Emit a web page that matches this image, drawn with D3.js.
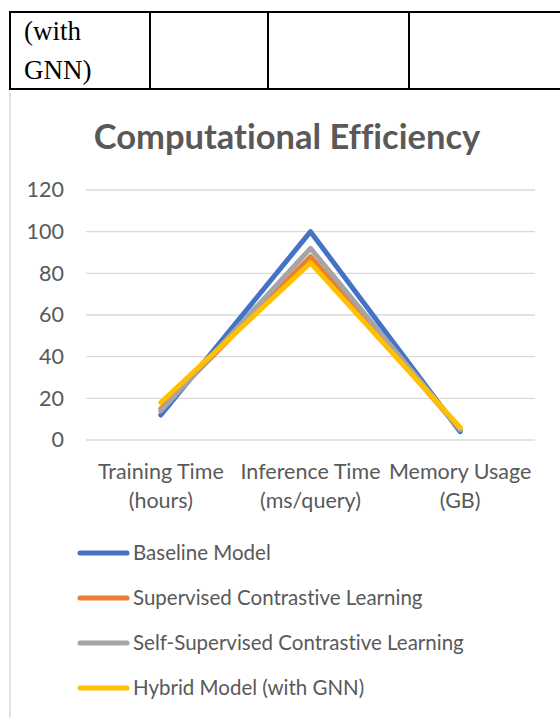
<!DOCTYPE html>
<html lang="en">
<head>
<meta charset="utf-8">
<title>Computational Efficiency</title>
<script src="https://cdn.jsdelivr.net/npm/d3@7"></script>
<style>
  body { margin: 0; background: #fff; }
  text { font-variant-ligatures: none; }
</style>
</head>
<body>
<script type="text/javascript">

var width = 560;
var height = 718;

var categories = ["Training Time (hours)", "Inference Time (ms/query)", "Memory Usage (GB)"];
var categoryLines = [["Training Time", "(hours)"], ["Inference Time", "(ms/query)"], ["Memory Usage", "(GB)"]];
var seriesNames = ["Baseline Model", "Supervised Contrastive Learning", "Self-Supervised Contrastive Learning", "Hybrid Model (with GNN)"];
var baseline = [12, 100, 4];
var supervised = [15, 88, 5];
var selfSupervised = [14, 92, 5];
var hybrid = [18, 85, 6];
var yTicks = [0, 20, 40, 60, 80, 100, 120];
var colors = ["#4472C4", "#ED7D31", "#A5A5A5", "#FFC000"];

var seriesValues = [baseline, supervised, selfSupervised, hybrid];

var font = "Lato, 'Open Sans', sans-serif";
var textColor = "#595959";

var svg = d3.select("body").append("svg")
    .attr("width", width)
    .attr("height", height);

// table fragment above the chart
var table = svg.append("g");
[10, 150, 268, 409].forEach(function(x) {
    table.append("line")
        .attr("x1", x).attr("x2", x)
        .attr("y1", 11).attr("y2", 90)
        .attr("stroke", "#000").attr("stroke-width", 2);
});
[12, 89].forEach(function(y) {
    table.append("line")
        .attr("x1", 9).attr("x2", width)
        .attr("y1", y).attr("y2", y)
        .attr("stroke", "#000").attr("stroke-width", 2);
});
table.append("text").attr("x", 24).attr("y", 40)
    .attr("font-family", "'Liberation Serif', 'Times New Roman', serif")
    .attr("font-size", 27).text("(with");
table.append("text").attr("x", 24).attr("y", 79)
    .attr("font-family", "'Liberation Serif', 'Times New Roman', serif")
    .attr("font-size", 27).text("GNN)");

// chart frame (left edge only visible)
svg.append("line")
    .attr("x1", 10).attr("x2", 10)
    .attr("y1", 92).attr("y2", height)
    .attr("stroke", "#d9d9d9").attr("stroke-width", 1.5);

// title
svg.append("text")
    .attr("x", 287).attr("y", 149)
    .attr("text-anchor", "middle")
    .attr("font-family", font)
    .attr("font-weight", "bold")
    .attr("font-size", 34.5)
    .attr("fill", textColor)
    .text("Computational Efficiency");

var x = d3.scalePoint().domain(categories).range([86, 535]).padding(0.5);
var y = d3.scaleLinear().domain([0, 120]).range([440, 190]);

// gridlines
svg.append("g").selectAll("line")
    .data(yTicks)
    .enter()
    .append("line")
    .attr("x1", 86).attr("x2", 535)
    .attr("y1", function(d) { return y(d); })
    .attr("y2", function(d) { return y(d); })
    .attr("stroke", "#d9d9d9")
    .attr("stroke-width", 1.3);

// y axis labels
var yAxis = svg.append("g")
    .attr("transform", "translate(64,0)")
    .call(d3.axisLeft(y).tickValues(yTicks).tickSize(0).tickPadding(0));
yAxis.select(".domain").remove();
yAxis.selectAll("text")
    .attr("font-family", font)
    .attr("font-size", 21.5)
    .attr("fill", textColor);

// x axis labels (two lines each)
var xLabels = svg.append("g").selectAll("text")
    .data(categories)
    .enter()
    .append("text")
    .attr("text-anchor", "middle")
    .attr("font-family", font)
    .attr("font-size", 21.5)
    .attr("fill", textColor);
xLabels.each(function(d, i) {
    var t = d3.select(this);
    categoryLines[i].forEach(function(line, j) {
        t.append("tspan")
            .attr("x", x(d))
            .attr("y", 479 + j * 29)
            .text(line);
    });
});

// series lines
var line = d3.line()
    .x(function(d, i) { return x(categories[i]); })
    .y(function(d) { return y(d); });

svg.append("g").selectAll("path")
    .data(seriesValues)
    .enter()
    .append("path")
    .attr("d", line)
    .attr("fill", "none")
    .attr("stroke", function(d, i) { return colors[i]; })
    .attr("stroke-width", 5)
    .attr("stroke-linejoin", "round")
    .attr("stroke-linecap", "round");

// legend
var legend = svg.append("g").selectAll("g")
    .data(seriesNames)
    .enter()
    .append("g")
    .attr("transform", function(d, i) { return "translate(0," + (553 + i * 45) + ")"; });
legend.append("line")
    .attr("x1", 80).attr("x2", 127)
    .attr("stroke", function(d, i) { return colors[i]; })
    .attr("stroke-width", 5)
    .attr("stroke-linecap", "round");
legend.append("text")
    .attr("x", 133)
    .attr("dy", "0.35em")
    .attr("font-family", font)
    .attr("font-size", 20.5)
    .attr("fill", textColor)
    .text(function(d) { return d; });

</script>
</body>
</html>
